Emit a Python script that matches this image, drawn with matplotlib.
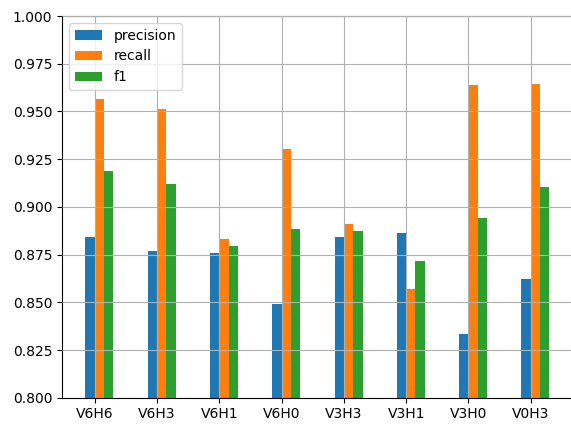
import numpy as np
import matplotlib
matplotlib.use("Agg")
import matplotlib.pyplot as plt

configs = ["V6H6", "V6H3", "V6H1", "V6H0", "V3H3", "V3H1", "V3H0", "V0H3"]
precision = [0.884, 0.877, 0.876, 0.849, 0.884, 0.8865, 0.8335, 0.862]
recall = [0.9565, 0.9512, 0.8833, 0.9305, 0.8908, 0.8568, 0.964, 0.9646]
f1 = [0.919, 0.9122, 0.8796, 0.8882, 0.8871, 0.8715, 0.8941, 0.9104]

fig = plt.figure(figsize=(5.71, 4.24), dpi=100)
# the axes run past the right edge of the figure
right_px = 595
ax = fig.add_axes([62.1 / 571, 0.0620, (right_px - 62.1) / 571, 0.9002])

x = np.arange(len(configs))
w = 0.15
ax.bar(x - w, precision, w, align="edge", label="precision", color="#1f77b4")
ax.bar(x, recall, w, align="edge", label="recall", color="#ff7f0e")
ax.bar(x + w, f1, w, align="edge", label="f1", color="#2ca02c")

ax.set_xticks(x)
ax.set_xticklabels(configs)
ax.set_xlim(-0.5225, -0.5225 + (right_px - 62.1) / 62.3)
ax.set_ylim(0.8, 1.0)
ax.set_yticks(np.arange(0.8, 1.0001, 0.025))
ax.yaxis.set_major_formatter(matplotlib.ticker.FormatStrFormatter("%.3f"))
ax.grid(True)
ax.set_axisbelow(False)
ax.legend(loc="upper left")

fig.savefig("out.png", dpi=100)
